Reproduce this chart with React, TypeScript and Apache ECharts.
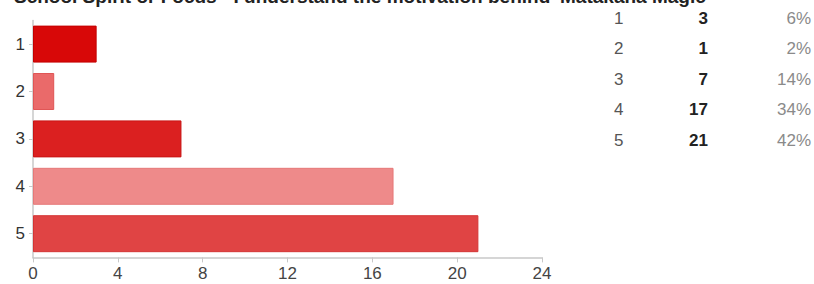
import React, { useEffect, useRef } from "react";
import * as echarts from "echarts";

const title = "School Spirit or Focus - I understand the motivation behind 'Matakana Magic'";
const categories = ["1", "2", "3", "4", "5"];
const counts = [3, 1, 7, 17, 21];
const percentLabels = ["6%", "2%", "14%", "34%", "42%"];
const barColors = ["#d80808", "#ea6a6a", "#db2020", "#ee8a8a", "#e04444"];
const borderColors = ["#c40000", "#e05555", "#c81414", "#e67878", "#d43434"];
const xTicks = [0, 4, 8, 12, 16, 20, 24];

export default function App() {
  const ref = useRef<HTMLDivElement>(null);
  useEffect(() => {
    if (!ref.current) return;
    const chart = echarts.init(ref.current, null, { renderer: "svg" });
    const font = "'Liberation Sans', Arial, sans-serif";
    const rowY0 = 18.5;
    const rowStep = 30.4;
    const tableTexts: any[] = [];
    categories.forEach((c, i) => {
      const y = rowY0 + i * rowStep;
      tableTexts.push({
        type: "text", x: 614, y,
        style: { text: c, fill: "#555", font: `17px ${font}`, textAlign: "left", textVerticalAlign: "middle" },
      });
      tableTexts.push({
        type: "text", x: 708, y,
        style: { text: String(counts[i]), fill: "#222", font: `bold 17px ${font}`, textAlign: "right", textVerticalAlign: "middle" },
      });
      tableTexts.push({
        type: "text", x: 811, y,
        style: { text: percentLabels[i], fill: "#8a8a8a", font: `17px ${font}`, textAlign: "right", textVerticalAlign: "middle" },
      });
    });
    chart.setOption({
      animation: false,
      grid: { left: 33, right: 272, top: 20.4, height: 237, containLabel: false },
      xAxis: {
        type: "value",
        min: 0,
        max: xTicks[xTicks.length - 1],
        interval: 4,
        splitLine: { show: false },
        axisLine: { show: true, lineStyle: { color: "#c8c8c8", width: 1.5 } },
        axisTick: { show: true, length: 5, lineStyle: { color: "#c8c8c8" } },
        axisLabel: { color: "#444", fontSize: 17, fontFamily: font, margin: 8 },
      },
      yAxis: {
        type: "category",
        data: categories,
        inverse: true,
        axisLine: { show: true, lineStyle: { color: "#c8c8c8", width: 1.5 } },
        axisTick: { show: true, alignWithLabel: true, length: 4, lineStyle: { color: "#c8c8c8" } },
        axisLabel: { color: "#333", fontSize: 17, fontFamily: font, margin: 8 },
      },
      series: [
        {
          type: "bar",
          barCategoryGap: "22%",
          data: counts.map((v, i) => ({
            value: v,
            itemStyle: { color: barColors[i], borderColor: borderColors[i], borderWidth: 1 },
          })),
        },
      ],
      graphic: [
        {
          type: "text", x: 14, y: 6,
          style: { text: title, fill: "#222", font: `bold 19px ${font}`, textAlign: "left", textVerticalAlign: "bottom" },
        },
        ...tableTexts,
      ],
    });
    return () => chart.dispose();
  }, []);
  return <div ref={ref} style={{ position: "fixed", left: 0, top: 0, width: 814, height: 284, background: "#fff" }} />;
}
